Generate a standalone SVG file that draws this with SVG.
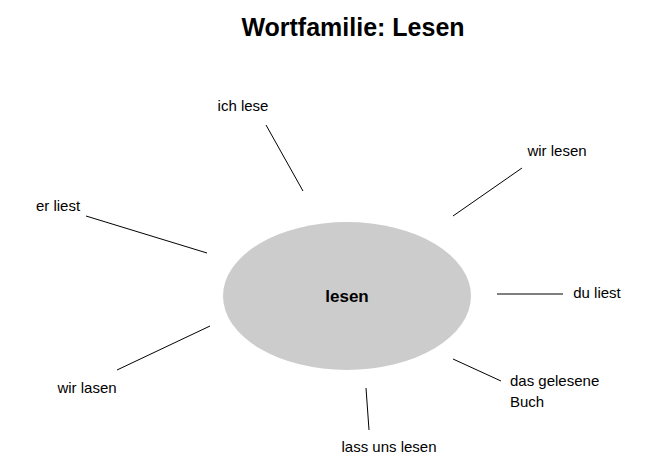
<svg xmlns="http://www.w3.org/2000/svg" width="671" height="475" viewBox="0 0 671 475">
<style>
.t{font-family:"Liberation Sans",Arial,sans-serif;font-size:15px;fill:#000}
.c line{stroke:#000;stroke-width:1}
</style>
<rect width="671" height="475" fill="#fff"/>
<text x="353" y="36" text-anchor="middle" style="font-family:'Liberation Sans',Arial,sans-serif;font-size:25px;font-weight:bold">Wortfamilie: Lesen</text>
<g id="center"><ellipse cx="347" cy="296" rx="124" ry="74" fill="#cccccc"/>
<text x="347" y="302" text-anchor="middle" class="t" style="font-size:17px;font-weight:bold">lesen</text></g>
<g class="c" id="connectors">
<line x1="266" y1="125" x2="303" y2="191"/>
<line x1="522" y1="168" x2="453" y2="216"/>
<line x1="86" y1="216" x2="207" y2="253"/>
<line x1="497" y1="294" x2="563" y2="294"/>
<line x1="117" y1="370" x2="210" y2="326"/>
<line x1="501" y1="381" x2="453" y2="359"/>
<line x1="366" y1="388" x2="369" y2="430"/>
</g>
<g id="n1"><text class="t" x="243" y="111" text-anchor="middle">ich lese</text></g>
<g id="n2"><text class="t" x="557" y="156" text-anchor="middle">wir lesen</text></g>
<g id="n3"><text class="t" x="58" y="211" text-anchor="middle">er liest</text></g>
<g id="n4"><text class="t" x="597" y="298" text-anchor="middle">du liest</text></g>
<g id="n5"><text class="t" x="87" y="393" text-anchor="middle">wir lasen</text></g>
<g id="n6"><text class="t" x="510" y="386">das gelesene</text><text class="t" x="510" y="407">Buch</text></g>
<g id="n7"><text class="t" x="389" y="452" text-anchor="middle">lass uns lesen</text></g>
</svg>
